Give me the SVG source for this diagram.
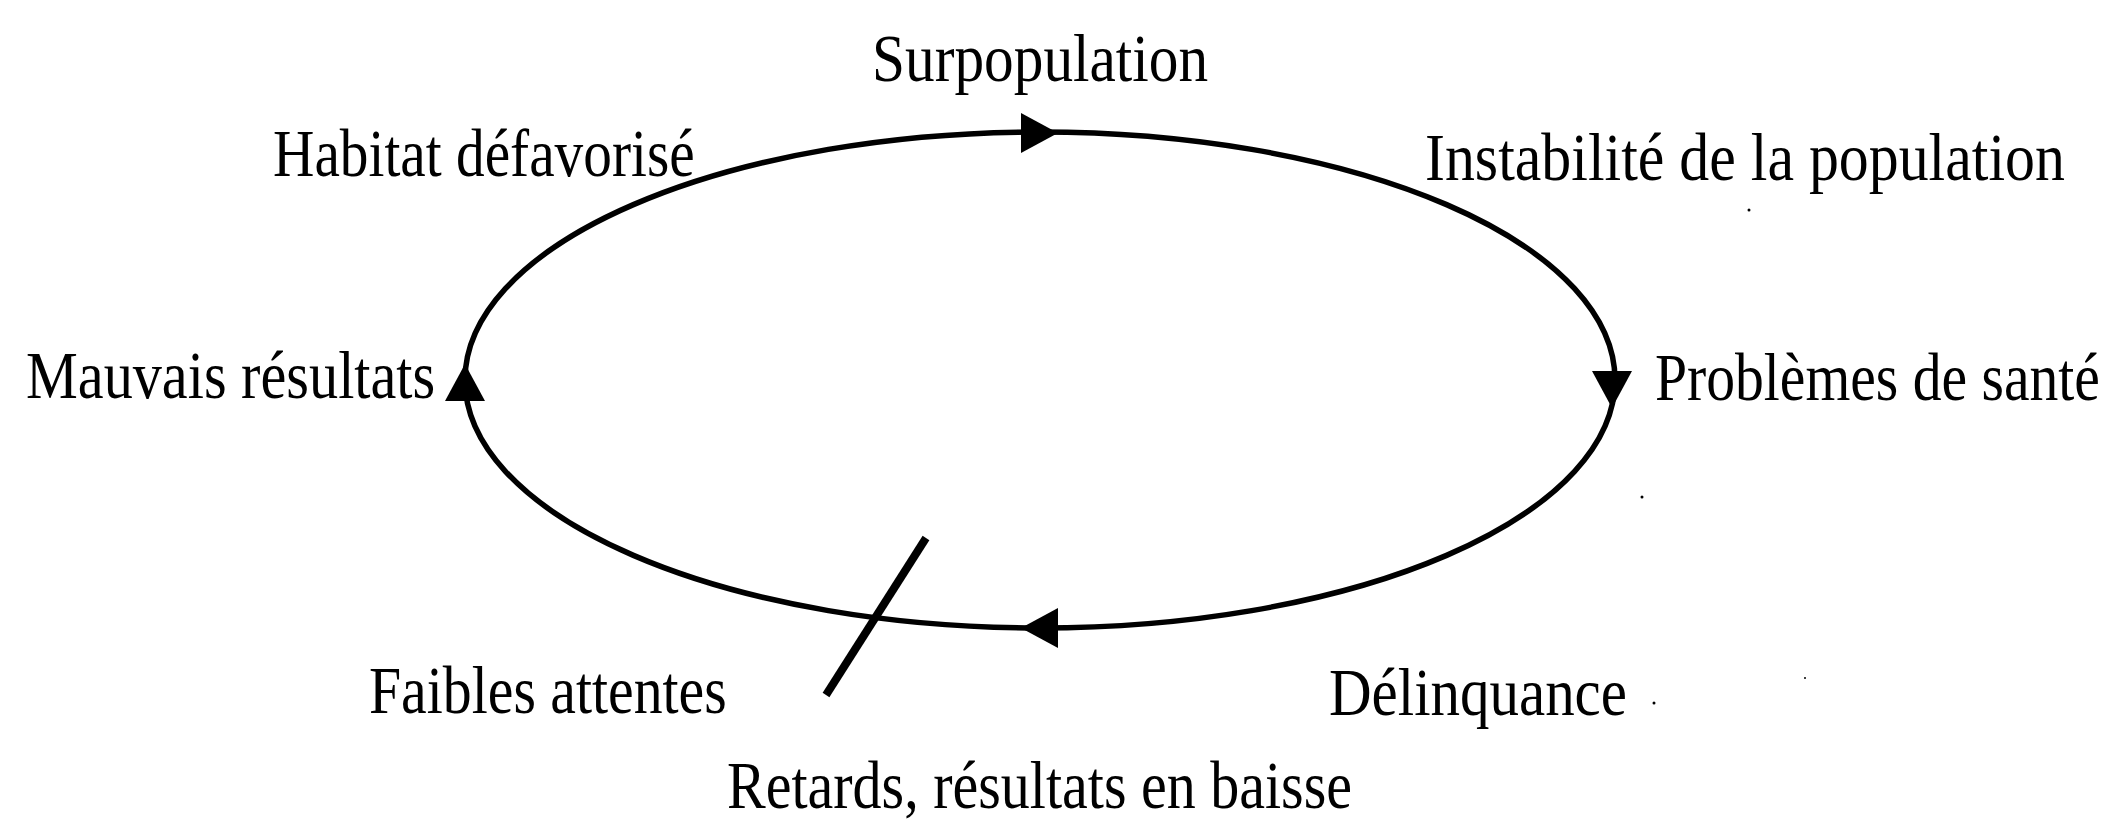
<svg xmlns="http://www.w3.org/2000/svg" xmlns:xlink="http://www.w3.org/1999/xlink" width="2111" height="822" viewBox="0 0 2111 822">
<style>
  .lbl { font-family: "Liberation Serif", "Times New Roman", serif; font-size: 68px; fill: #000; }
  .loop { fill: none; stroke: #000; stroke-width: 5.5; }
  .slash { stroke: #000; stroke-width: 8; stroke-linecap: butt; }
  .head { fill: #000; }
  .speck { fill: #000; }
</style>
<defs>
  <path id="arrowhead" d="M0,0 L-37,-20 L-37,20 Z"/>
</defs>
<rect x="0" y="0" width="2111" height="822" fill="#fff"/>

<g id="connectors">
  <ellipse class="loop" cx="1040" cy="380" rx="575" ry="248"/>
  <use href="#arrowhead" xlink:href="#arrowhead" class="head" transform="translate(1058,133)"/>
  <use href="#arrowhead" xlink:href="#arrowhead" class="head" transform="translate(1612,408) rotate(90)"/>
  <use href="#arrowhead" xlink:href="#arrowhead" class="head" transform="translate(1021,628) rotate(180)"/>
  <use href="#arrowhead" xlink:href="#arrowhead" class="head" transform="translate(465,364) rotate(-90)"/>
  <line class="slash" x1="926" y1="538" x2="826" y2="695"/>
</g>

<g id="node-surpopulation">
  <text class="lbl" transform="translate(872,81) scale(0.83,1)" x="0" y="0" textLength="405" lengthAdjust="spacingAndGlyphs">Surpopulation</text>
</g>
<g id="node-habitat">
  <text class="lbl" transform="translate(273,176) scale(0.83,1)" x="0" y="0" textLength="508" lengthAdjust="spacingAndGlyphs">Habitat défavorisé</text>
</g>
<g id="node-instabilite">
  <text class="lbl" transform="translate(1425,180) scale(0.83,1)" x="0" y="0" textLength="771" lengthAdjust="spacingAndGlyphs">Instabilité de la population</text>
</g>
<g id="node-mauvais">
  <text class="lbl" transform="translate(26,398) scale(0.83,1)" x="0" y="0" textLength="493" lengthAdjust="spacingAndGlyphs">Mauvais résultats</text>
</g>
<g id="node-problemes">
  <text class="lbl" transform="translate(1655,400) scale(0.83,1)" x="0" y="0" textLength="536" lengthAdjust="spacingAndGlyphs">Problèmes de santé</text>
</g>
<g id="node-faibles">
  <text class="lbl" transform="translate(369,713) scale(0.83,1)" x="0" y="0" textLength="431" lengthAdjust="spacingAndGlyphs">Faibles attentes</text>
</g>
<g id="node-delinquance">
  <text class="lbl" transform="translate(1329,715) scale(0.83,1)" x="0" y="0" textLength="359" lengthAdjust="spacingAndGlyphs">Délinquance</text>
</g>
<g id="node-retards">
  <text class="lbl" transform="translate(727,808) scale(0.83,1)" x="0" y="0" textLength="753" lengthAdjust="spacingAndGlyphs">Retards, résultats en baisse</text>
</g>

<g id="specks">
  <circle class="speck" cx="1749" cy="210" r="1.5"/>
  <circle class="speck" cx="1642" cy="497" r="1.5"/>
  <circle class="speck" cx="1654" cy="703" r="1.5"/>
  <circle class="speck" cx="1805" cy="678" r="1"/>
</g>
</svg>
